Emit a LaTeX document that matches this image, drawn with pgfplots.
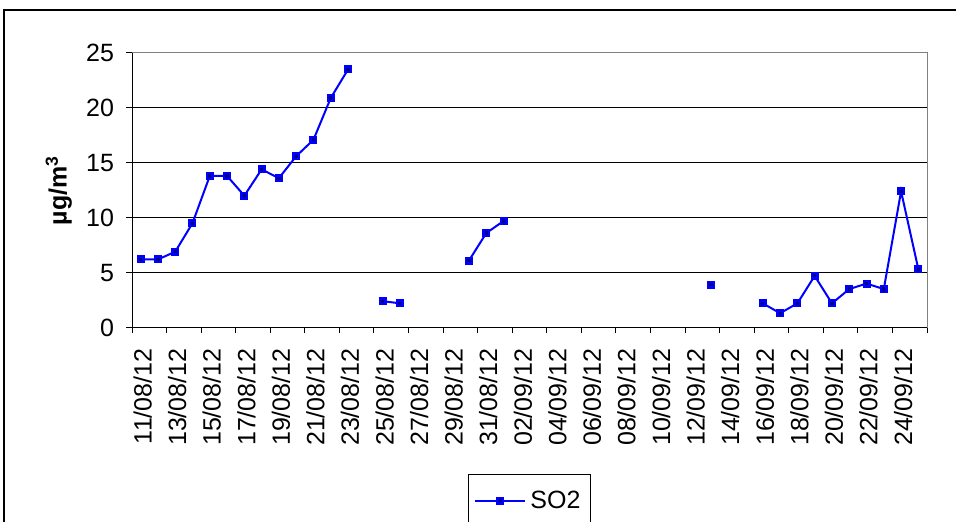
\documentclass[border=0pt]{standalone}
\usepackage{fontspec}
\setmainfont{Liberation Sans}
\usepackage{pgfplots}
\pgfplotsset{compat=1.18}

\definecolor{soblue}{RGB}{0,0,255}
\definecolor{sonavy}{RGB}{0,0,128}
\definecolor{framegray}{RGB}{128,128,128}

\newcommand{\chartfont}{\fontsize{12.5}{15}\selectfont}

\begin{document}
\begin{tikzpicture}
\useasboundingbox (0,0) rectangle (478pt,261pt);
\clip (0,0) rectangle (478pt,261pt);
\fill[white] (0,0) rectangle (478pt,261pt);
% chart frame
\draw[black, line width=1pt] (2pt,256pt) rectangle (490pt,-10pt);
\begin{axis}[
  at={(66pt,97.25pt)}, anchor=south west,
  scale only axis, width=397.5pt, height=137.25pt,
  xmin=-0.5, xmax=45.5, ymin=0, ymax=25,
  ytick={0,5,...,25},
  xtick={-0.5,1.5,...,45.5},
  xticklabel={\mbox{}},
  extra x ticks={0,2,...,44},
  extra x tick labels={11/08/12,13/08/12,15/08/12,17/08/12,19/08/12,21/08/12,23/08/12,25/08/12,27/08/12,29/08/12,31/08/12,02/09/12,04/09/12,06/09/12,08/09/12,10/09/12,12/09/12,14/09/12,16/09/12,18/09/12,20/09/12,22/09/12,24/09/12},
  % rotated labels: xshift moves them down the page
  extra x tick style={major tick length=0pt,
    xticklabel style={rotate=90, anchor=east, xshift=-7pt, yshift=-1pt}},
  tick pos=left,
  tick align=outside,
  major tick length=3pt,
  tick style={black, line width=0.5pt},
  ymajorgrids,
  major grid style={black, line width=0.5pt},
  axis line style={framegray, line width=0.5pt},
  tick label style={font=\chartfont},
  /pgf/number format/assume math mode=true,
  yticklabel style={xshift=-2.5pt},
  ylabel={\textbf{µg/m\textsuperscript{3}}},
  ylabel style={at={(axis description cs:-0.092,0.5)}, anchor=center, font=\chartfont},
  unbounded coords=jump,
  legend style={at={(0.5,-0.534)}, anchor=north, draw=black, line width=0.5pt,
    inner xsep=3pt, inner ysep=6pt, font=\chartfont},
  legend image code/.code={\draw[#1, mark repeat=2, mark phase=2]
    plot coordinates {(0pt,0pt) (12.5pt,0pt) (25pt,0pt)};},
  after end axis/.code={
    \draw[black, line width=0.5pt] (rel axis cs:0,1) -- (rel axis cs:0,0) -- (rel axis cs:1,0);
  },
]
\addplot[soblue, line width=1pt, mark=square*, mark size=1.4pt,
  mark options={draw=soblue, fill=sonavy, line width=1.2pt, solid}]
  coordinates {
  (0,6.2) (1,6.2) (2,6.9) (3,9.5) (4,13.8) (5,13.8) (6,12.0) (7,14.4)
  (8,13.6) (9,15.6) (10,17.1) (11,20.9) (12,23.5) (13,nan)
  (14,2.4) (15,2.2) (16,nan)
  (19,6.1) (20,8.6) (21,9.7) (22,nan)
  (33,3.9) (34,nan)
  (36,2.2) (37,1.3) (38,2.2) (39,4.7) (40,2.2) (41,3.5) (42,4.0)
  (43,3.5) (44,12.4) (45,5.3)
  };
\addlegendentry{SO2}
\end{axis}
\end{tikzpicture}
\end{document}
